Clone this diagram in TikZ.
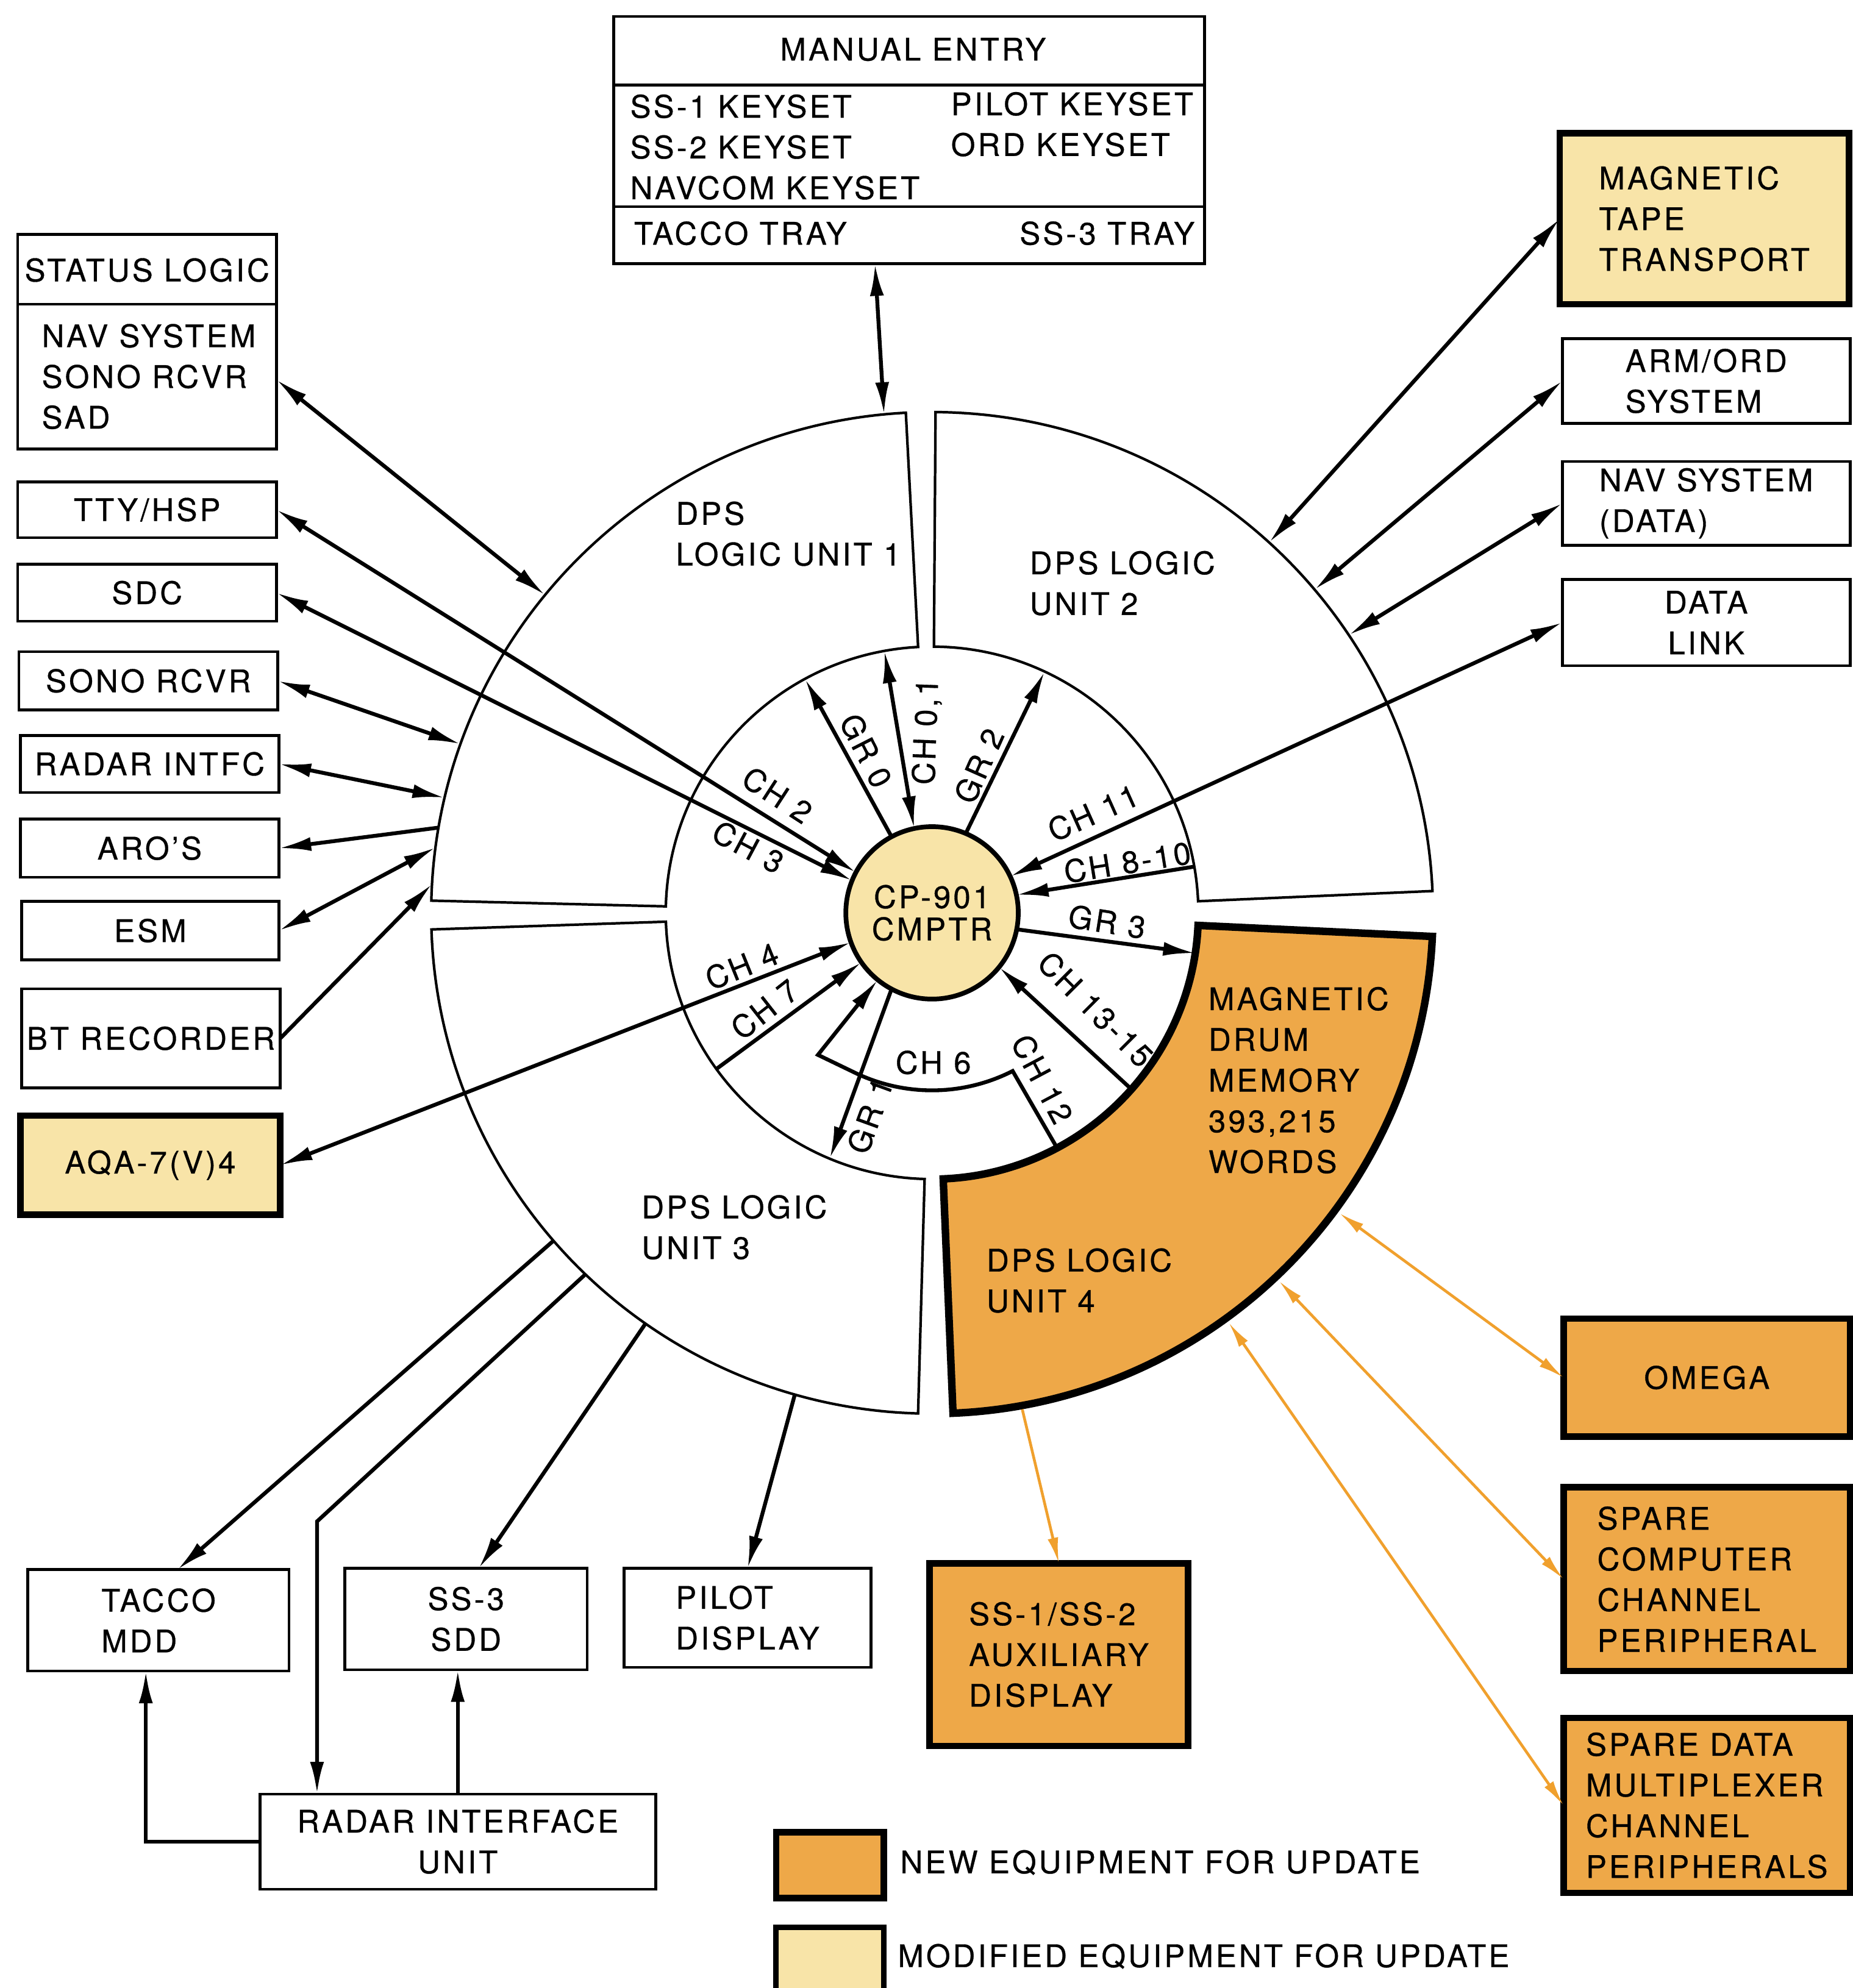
\documentclass[tikz,border=0pt]{standalone}
\usepackage{fontspec}
\setmainfont{TeX Gyre Heros}[LetterSpace=8,FakeBold=0.6]
\usetikzlibrary{arrows.meta,calc}
\definecolor{neworange}{RGB}{238,168,72}
\definecolor{modyellow}{RGB}{248,228,168}
\definecolor{orline}{RGB}{240,160,45}
% box node from corner coordinates (reference pixels): style, x1, y1, x2, y2, name
\newcommand\boxnode[6]{\node[#1,minimum width={(#4-#2)*0.0208cm},minimum height={(#5-#3)*0.0208cm}] (#6) at ({(#2+#4)/2},{-(#3+#5)/2})}
\begin{document}
\begin{tikzpicture}[x=0.0208cm,y=0.0208cm,
  >={Latex[length=15pt,width=6.5pt]},
  every node/.style={inner sep=0pt,outer sep=0pt},
  fnt/.style={font=\fontsize{14.5}{19}\selectfont},
  txt/.style={fnt},
  box/.style={draw,line width=1.3pt,fill=white,fnt},
  newbox/.style={box,line width=3pt,fill=neworange},
  modbox/.style={box,line width=3pt,fill=modyellow},
  unitshape/.style={draw,line width=1.2pt,fill=white},
  conn/.style={line width=1.8pt},
  oconn/.style={line width=1.3pt,draw=orline,>={Latex[length=12pt,width=5pt]}},
  divider/.style={line width=1.3pt}]

\fill[white] (0,0) rectangle (1461,-1568);
\useasboundingbox (0,0) rectangle (1461,-1568);

\coordinate (C) at (735,-720);

% ---------- DPS logic units ----------
\draw[unitshape] ($(C)+(93:395)$) arc[start angle=93,end angle=178.6,radius=395]
  -- ($(C)+(178.6:210)$) arc[start angle=178.6,end angle=93,radius=210] -- cycle;
\draw[unitshape] ($(C)+(2.5:395)$) arc[start angle=2.5,end angle=89.6,radius=395]
  -- ($(C)+(89.6:210)$) arc[start angle=89.6,end angle=2.5,radius=210] -- cycle;
\draw[unitshape] ($(C)+(181.9:395)$) arc[start angle=181.9,end angle=268.4,radius=395]
  -- ($(C)+(268.4:210)$) arc[start angle=268.4,end angle=181.9,radius=210] -- cycle;
\draw[unitshape,line width=3.5pt,fill=neworange] ($(C)+(272.4:395)$) arc[start angle=272.4,end angle=357.3,radius=395]
  -- ($(C)+(357.3:210)$) arc[start angle=357.3,end angle=272.4,radius=210] -- cycle;

\node[txt,align=left,anchor=west] (u1t) at (533,-421) {DPS\\LOGIC UNIT 1};
\node[txt,align=left,anchor=west] (u2t) at (812,-460) {DPS LOGIC\\UNIT 2};
\node[txt,align=left,anchor=west] (u3t) at (506,-968) {DPS LOGIC\\UNIT 3};
\node[txt,align=left,anchor=west] (u4t) at (778,-1010) {DPS LOGIC\\UNIT 4};
\node[txt,align=left,anchor=west] (drum) at (953,-852) {MAGNETIC\\DRUM\\MEMORY\\393,215\\WORDS};

% ---------- computer ----------
\node[circle,draw,line width=2.2pt,fill=modyellow,minimum size={136*0.0208cm},
  align=center,font=\fontsize{14.5}{15}\selectfont] (cpu) at (C) {CP-901\\CMPTR};

% ---------- manual entry ----------
\boxnode{box}{484}{13}{950}{208}{manual} {};
\draw[divider] (484,-67) -- (950,-67);
\draw[divider] (484,-163) -- (950,-163);
\node[txt] (met) at (720,-39) {MANUAL ENTRY};
\node[txt,align=left,anchor=west] (mel) at (497,-116) {SS-1 KEYSET\\SS-2 KEYSET\\NAVCOM KEYSET};
\node[txt,align=left,anchor=west] (mer) at (750,-98) {PILOT KEYSET\\ORD KEYSET};
\node[txt,anchor=west] (tray1) at (500,-184) {TACCO TRAY};
\node[txt,anchor=east] (tray2) at (942,-184) {SS-3 TRAY};

% ---------- left column ----------
\boxnode{box}{14}{185}{218}{354}{status} {};
\draw[divider] (14,-240) -- (218,-240);
\node[txt] (stt) at (116,-213) {STATUS LOGIC};
\node[txt,align=left,anchor=west] (stl) at (33,-297) {NAV SYSTEM\\SONO RCVR\\SAD};
\boxnode{box}{14}{380}{218}{424}{tty} {TTY/HSP};
\boxnode{box}{14}{445}{218}{490}{sdc} {SDC};
\boxnode{box}{15}{514}{219}{560}{sono} {SONO RCVR};
\boxnode{box}{16}{580}{220}{625}{radar} {RADAR INTFC};
\boxnode{box}{16}{646}{220}{692}{aros} {ARO’S};
\boxnode{box}{17}{711}{220}{757}{esm} {ESM};
\boxnode{box}{17}{780}{221}{858}{bt} {BT RECORDER};
\boxnode{modbox}{16}{880}{221}{958}{aqa} {AQA-7(V)4};

% ---------- right column ----------
\boxnode{modbox,align=left}{1230}{105}{1458}{240}{magtape} {MAGNETIC\\TAPE\\TRANSPORT};
\boxnode{box,align=left}{1232}{267}{1459}{334}{armord} {ARM/ORD\\SYSTEM};
\boxnode{box,align=left}{1232}{364}{1459}{430}{nav} {NAV SYSTEM\\(DATA)};
\boxnode{box,align=center}{1232}{457}{1459}{525}{datalink} {DATA\\LINK};
\boxnode{newbox}{1233}{1040}{1459}{1133}{omega} {OMEGA};
\boxnode{newbox,align=left}{1233}{1173}{1459}{1318}{spc} {SPARE\\COMPUTER\\CHANNEL\\PERIPHERAL};
\boxnode{newbox,align=left}{1233}{1355}{1459}{1493}{spm} {SPARE DATA\\MULTIPLEXER\\CHANNEL\\PERIPHERALS};

% ---------- bottom ----------
\boxnode{box,align=left}{22}{1238}{228}{1318}{tacco} {TACCO\\MDD};
\boxnode{box,align=center}{272}{1237}{463}{1317}{ss3} {SS-3\\SDD};
\boxnode{box,align=left}{492}{1237}{687}{1315}{pilot} {PILOT\\DISPLAY};
\boxnode{newbox,align=left}{733}{1233}{937}{1377}{aux} {SS-1/SS-2\\AUXILIARY\\DISPLAY};
\boxnode{box,align=center}{205}{1415}{517}{1490}{riu} {RADAR INTERFACE\\UNIT};

% ---------- legend ----------
\boxnode{newbox}{612}{1445}{697}{1497}{leg1} {};
\node[txt,anchor=west] (leg1t) at (710,-1469) {NEW EQUIPMENT FOR UPDATE};
\boxnode{modbox,line width=2.5pt}{612}{1520}{697}{1580}{leg2} {};
\node[txt,anchor=west] (leg2t) at (708,-1543) {MODIFIED EQUIPMENT FOR UPDATE};

% ---------- connection points ----------
\coordinate (oStatus) at ($(C)+(140.6:395)$);
\coordinate (oSono) at ($(C)+(160.3:395)$);
\coordinate (oRadar) at ($(C)+(166.7:395)$);
\coordinate (oAros) at ($(C)+(170.2:395)$);
\coordinate (oEsm) at ($(C)+(172.5:395)$);
\coordinate (oBt) at ($(C)+(176.7:395)$);
\coordinate (oManual) at ($(C)+(95.5:395)$);
\coordinate (oTape) at ($(C)+(47.7:395)$);
\coordinate (oArm) at ($(C)+(40.2:395)$);
\coordinate (oNav) at ($(C)+(33.7:395)$);
\coordinate (oTacco) at ($(C)+(220.9:395)$);
\coordinate (oRiu) at ($(C)+(226.2:395)$);
\coordinate (oSs3) at ($(C)+(235.1:395)$);
\coordinate (oPilot) at ($(C)+(254.1:395)$);
\coordinate (oOmega) at ($(C)+(-36.4:399)$);
\coordinate (oSpc) at ($(C)+(-46.7:399)$);
\coordinate (oSpm) at ($(C)+(-54.1:399)$);
\coordinate (oAux) at ($(C)+(-79.7:398)$);
\coordinate (iGr0) at ($(C)+(118.5:210)$);
\coordinate (iCh01) at ($(C)+(100.3:210)$);
\coordinate (iGr2) at ($(C)+(65:210)$);
\coordinate (iCh810) at ($(C)+(10:210)$);
\coordinate (iGr3) at ($(C)+(-8.7:210)$);
\coordinate (iCh1315) at ($(C)+(-41.5:210)$);
\coordinate (iCh12) at ($(C)+(-62:210)$);
\coordinate (iGr1) at ($(C)+(247.4:210)$);
\coordinate (iCh7) at ($(C)+(215.9:210)$);
\coordinate (ch6corner) at (645,-832);
\coordinate (riubend) at (250,-1200);

% ---------- connectors ----------
\draw[conn,<->] ($(status.east)+(0,-30)$) -- (oStatus);
\draw[conn,<->] (tty.east) -- (cpu.152);
\draw[conn,<->] (sdc.east) -- (cpu.158);
\draw[conn,<->] (sono.east) -- (oSono);
\draw[conn,<->] (radar.east) -- (oRadar);
\draw[conn,<-] (aros.east) -- (oAros);
\draw[conn,<->] (esm.east) -- (oEsm);
\draw[conn,->] (bt.east) -- (oBt);
\draw[conn,<->] (aqa.east) -- (cpu.200);
\draw[conn,<->] ($(manual.south)+(-27,0)$) -- (oManual);
\draw[conn,<->] (magtape.west) -- (oTape);
\draw[conn,<->] (armord.west) -- (oArm);
\draw[conn,<->] (nav.west) -- (oNav);
\draw[conn,<->] (datalink.west) -- (cpu.25);
\draw[conn,->] (cpu.118) -- (iGr0);
\draw[conn,<->] (iCh01) -- (cpu.102);
\draw[conn,->] (cpu.67) -- (iGr2);
\draw[conn,->] (iCh810) -- (cpu.12);
\draw[conn,->] (cpu.349) -- (iGr3);
\draw[conn,->] (iCh1315) -- (cpu.321);
\draw[conn,->] (iCh12) -- ($(C)+(-63:140)$) arc[start angle=-63,end angle=-115.5,radius=140] -- (ch6corner) -- (cpu.231);
\draw[conn,->] (cpu.242) -- (iGr1);
\draw[conn,->] (iCh7) -- (cpu.215);
\draw[conn,->] (oTacco) -- ($(tacco.north)+(15,0)$);
\draw[conn,->] (oRiu) -- (riubend) -- (riubend |- riu.north);
\draw[conn,->] (oSs3) -- ($(ss3.north)+(10,0)$);
\draw[conn,->] (oPilot) -- (pilot.north);
\draw[conn,->] (riu.west) -| ($(tacco.south)+(-10,0)$);
\draw[conn,->] (riu.north) -- (riu.north |- ss3.south);
\draw[oconn,<->] (oOmega) -- (omega.west);
\draw[oconn,<->] (oSpc) -- (spc.west);
\draw[oconn,<->] (oSpm) -- (spm.west);
\draw[oconn,->] (oAux) -- (aux.north);

% ---------- channel labels ----------
\node[txt,rotate=-33] (lch2) at (613,-627) {CH 2};
\node[txt,rotate=-28] (lch3) at (590,-668) {CH 3};
\node[txt,rotate=-63] (lgr0) at (683,-592) {GR 0};
\node[txt,rotate=88] (lch01) at (731,-577) {CH 0,1};
\node[txt,rotate=66] (lgr2) at (772,-604) {GR 2};
\node[txt,rotate=24] (lch11) at (862,-641) {CH 11};
\node[txt,rotate=9] (lch810) at (889,-680) {CH 8-10};
\node[txt,rotate=-9] (lgr3) at (873,-727) {GR 3};
\node[txt,rotate=-45] (lch1315) at (864,-796) {CH 13-15};
\node[txt,rotate=-62] (lch12) at (822,-851) {CH 12};
\node[txt] (lch6) at (736,-838) {CH 6};
\node[txt,rotate=70] (lgr1) at (686,-880) {GR 1};
\node[txt,rotate=38] (lch7) at (603,-796) {CH 7};
\node[txt,rotate=22] (lch4) at (585,-762) {CH 4};
\end{tikzpicture}
\end{document}
